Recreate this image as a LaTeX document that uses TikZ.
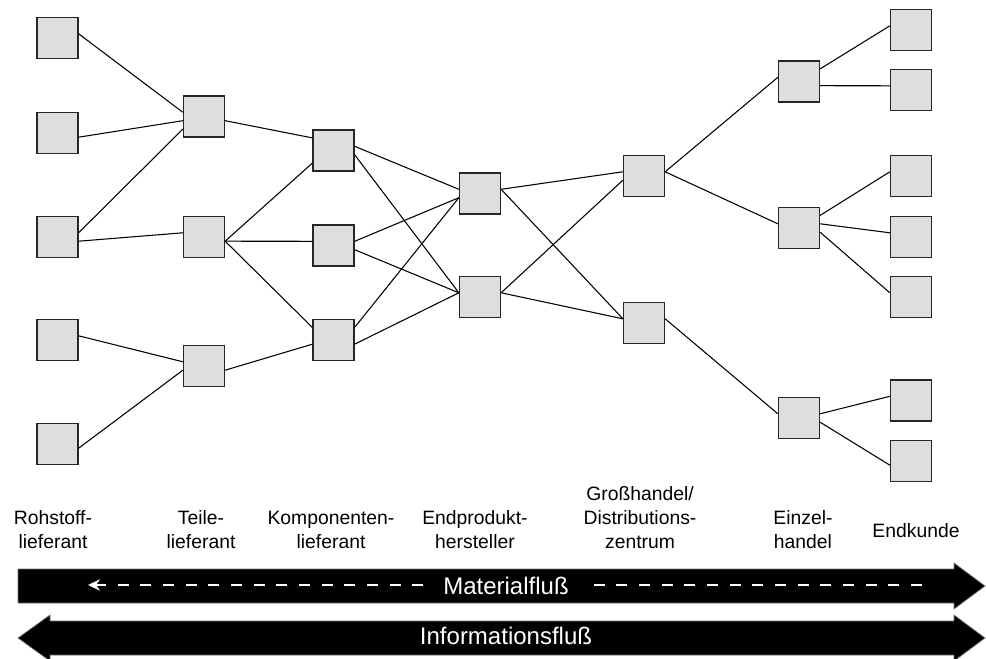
\documentclass[tikz,border=0pt]{standalone}
\usepackage{fontspec}
\setmainfont{Liberation Sans}
\usetikzlibrary{arrows.meta,calc}
\begin{document}
\begin{tikzpicture}[x=0.75pt,y=-0.75pt,
  box/.style={draw=black!85, line width=0.95pt, fill=black!13, minimum size=30.75pt, inner sep=0pt},
  link/.style={line width=0.8pt, draw=black},
  up1/.style={yshift=3.15pt}, dn1/.style={yshift=-3.15pt},
  up2/.style={yshift=9.45pt}, dn2/.style={yshift=-9.45pt},
  lbl/.style={font=\fontsize{14.5}{18}\selectfont, align=center, inner sep=0pt, anchor=south},
  flow/.style={fill=black, draw=black!55, line width=0.5pt},
  flowtxt/.style={font=\fontsize{18}{20}\selectfont, text=white, fill=black, inner xsep=15pt, inner ysep=2pt}]

\useasboundingbox (0,0) rectangle (986,659);
\fill[white] (0,0) rectangle (986,659);

% boxes
\node[box] (a1) at (57.5,38) {};
\node[box] (a2) at (57.5,133) {};
\node[box] (a3) at (57.5,237) {};
\node[box] (a4) at (57.5,340) {};
\node[box] (a5) at (57.5,444) {};
\node[box] (b1) at (204,116.5) {};
\node[box] (b2) at (204,237) {};
\node[box] (b3) at (204,366) {};
\node[box] (c1) at (333.5,150.5) {};
\node[box] (c2) at (333.5,245.5) {};
\node[box] (c3) at (333.5,340) {};
\node[box] (d1) at (480,193.5) {};
\node[box] (d2) at (480,297) {};
\node[box] (e1) at (644,176) {};
\node[box] (e2) at (644,323) {};
\node[box] (f1) at (799,81.5) {};
\node[box] (f2) at (799,228) {};
\node[box] (f3) at (799,418) {};
\node[box] (g1) at (911,30) {};
\node[box] (g2) at (911,90) {};
\node[box] (g3) at (911,176) {};
\node[box] (g4) at (911,237) {};
\node[box] (g5) at (911,297) {};
\node[box] (g6) at (911,400.5) {};
\node[box] (g7) at (911,461) {};

% connectors
\draw[link] ([up1]a1.east) -- ([up1]b1.west);
\draw[link] ([dn1]a2.east) -- ([dn1]b1.west);
\draw[link] ([up1]a3.east) -- ([dn2]b1.west);
\draw[link] ([dn1]a3.east) -- ([up1]b2.west);
\draw[link] ([up1]a4.east) -- ([up1]b3.west);
\draw[link] ([dn1]a5.east) -- ([dn1]b3.west);
\draw[link] ([dn1]b1.east) -- ([up2]c1.west);
\draw[link] ([dn1]b2.east) -- ([dn2]c1.west);
\draw[link] ([dn1]b2.east) -- ([up1]c2.west);
\draw[link] ([dn1]b2.east) -- ([up2]c3.west);
\draw[link] ([dn1]b3.east) -- ([dn1]c3.west);
\draw[link] ([up1]c1.east) -- ([up1]d1.west);
\draw[link] ([dn1]c1.east) -- ([up1]d2.west);
\draw[link] ([up1]c2.east) -- ([dn1]d1.west);
\draw[link] ([dn1]c2.east) -- ([up1]d2.west);
\draw[link] ([up2]c3.east) -- ([dn1]d1.west);
\draw[link] ([dn1]c3.east) -- ([up1]d2.west);
\draw[link] ([up1]d1.east) -- ([up1]e1.west);
\draw[link] ([up1]d1.east) -- ([up1]e2.west);
\draw[link] ([up1]d2.east) -- ([dn1]e1.west);
\draw[link] ([up1]d2.east) -- ([up1]e2.west);
\draw[link] ([up1]e1.east) -- ([up1]f1.west);
\draw[link] ([up1]e1.east) -- ([up1]f2.west);
\draw[link] ([up1]e2.east) -- ([up1]f3.west);
\draw[link] ([up2]f1.east) -- ([up1]g1.west);
\draw[link] ([dn1]f1.east) -- ([up1]g2.west);
\draw[link] ([up2]f2.east) -- ([up1]g3.west);
\draw[link] ([up1]f2.east) -- ([up1]g4.west);
\draw[link] ([dn1]f2.east) -- ([up1]g5.west);
\draw[link] ([up1]f3.east) -- ([up1]g6.west);
\draw[link] ([dn1]f3.east) -- ([dn1]g7.west);

% labels
\node[lbl] (l1) at (53,549) {Rohstoff-\\lieferant};
\node[lbl] (l2) at (201,549) {Teile-\\lieferant};
\node[lbl] (l3) at (331,549) {Komponenten-\\lieferant};
\node[lbl] (l4) at (475,549) {Endprodukt-\\hersteller};
\node[lbl] (l5) at (640,549) {Großhandel/\\Distributions-\\zentrum};
\node[lbl] (l6) at (803,549) {Einzel-\\handel};
\node[lbl] (l7) at (916,538) {Endkunde};

% flow arrows
\draw[flow] (18,569) -- (954,569) -- (954,563) -- (985,586) -- (954,609) -- (954,603) -- (18,603) -- cycle;
\draw[flow] (18,638) -- (50,615) -- (50,621) -- (954,621) -- (954,615) -- (985,638) -- (954,661) -- (954,655) -- (50,655) -- (50,661) -- cycle;

\coordinate (mr) at (922,585);
\coordinate (ml) at (88,585);
\draw[white, line width=2.2pt, dash pattern=on 8.25pt off 8.75pt, -{Stealth[length=9pt,width=8.5pt]}] (mr) -- (ml);

\node[flowtxt] (mat) at (506,586) {Materialfluß};
\node[flowtxt] (inf) at (506,636) {Informationsfluß};
\end{tikzpicture}
\end{document}
